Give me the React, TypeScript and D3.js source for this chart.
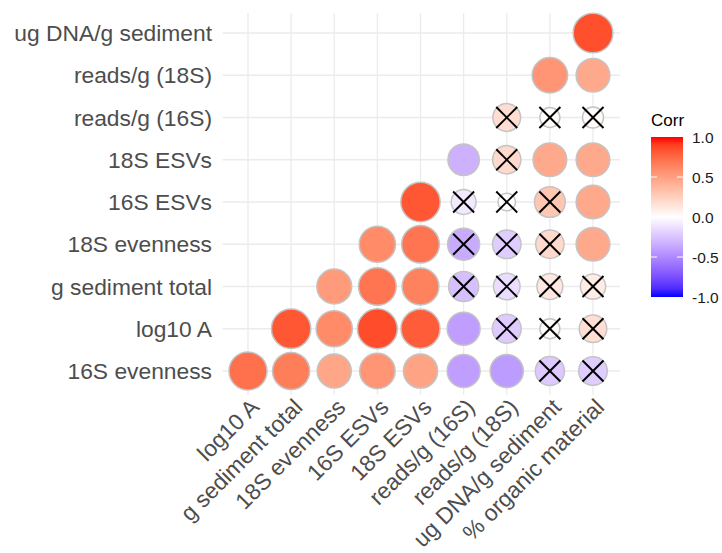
import React from "react";
import * as d3 from "d3";

// Variable order along each axis
const xLabels = [
  "log10 A",
  "g sediment total",
  "18S evenness",
  "16S ESVs",
  "18S ESVs",
  "reads/g (16S)",
  "reads/g (18S)",
  "ug DNA/g sediment",
  "% organic material",
];
// bottom to top
const yLabels = [
  "16S evenness",
  "log10 A",
  "g sediment total",
  "18S evenness",
  "16S ESVs",
  "18S ESVs",
  "reads/g (16S)",
  "reads/g (18S)",
  "ug DNA/g sediment",
];

// Lower-triangle correlations: row k starts at column k
const row0 = [0.72, 0.66, 0.47, 0.55, 0.48, -0.41, -0.42, -0.23, -0.21];
const row1 = [0.82, 0.6, 0.86, 0.8, -0.41, -0.22, 0.01, 0.17];
const row2 = [0.52, 0.7, 0.64, -0.27, -0.14, 0.12, 0.1];
const row3 = [0.6, 0.7, -0.36, -0.21, 0.2, 0.45];
const row4 = [0.82, -0.09, 0.0, 0.3, 0.45];
const row5 = [-0.33, 0.2, 0.45, 0.45];
const row6 = [0.18, 0.01, 0.02];
const row7 = [0.55, 0.45];
const row8 = [0.85];

// Non-significant cells (marked with a cross)
const ns0 = [0, 0, 0, 0, 0, 0, 0, 1, 1];
const ns1 = [0, 0, 0, 0, 0, 1, 1, 1];
const ns2 = [0, 0, 0, 1, 1, 1, 1];
const ns3 = [0, 0, 1, 1, 1, 0];
const ns4 = [0, 1, 1, 1, 0];
const ns5 = [0, 1, 0, 0];
const ns6 = [1, 1, 1];
const ns7 = [0, 0];
const ns8 = [0];

const legendTicks = [1.0, 0.5, 0.0, -0.5, -1.0];

const corrRows = [row0, row1, row2, row3, row4, row5, row6, row7, row8];
const nsRows = [ns0, ns1, ns2, ns3, ns4, ns5, ns6, ns7, ns8];

const W = 722;
const H = 553;
const FONT = "'Liberation Sans', Arial, Helvetica, sans-serif";
const AXIS_FONT = 22.8;

export default function App() {
  const panel = { left: 222.5, right: 620, top: 13, bottom: 395 };
  const x = d3.scalePoint<string>().domain(xLabels).range([248, 593]);
  const y = d3.scalePoint<string>().domain(yLabels).range([371, 33]);

  const color = d3
    .scaleLinear<string>()
    .domain([-1, 0, 1])
    .range(["blue", "white", "red"])
    .interpolate(d3.interpolateLab);

  const rScale = d3.scaleSqrt().domain([0, 1]).range([8.8, 20.8]);

  const cells: { xi: number; yi: number; v: number; ns: boolean }[] = [];
  corrRows.forEach((row, k) => {
    row.forEach((v, j) => {
      cells.push({ xi: k + j, yi: k, v, ns: nsRows[k][j] === 1 });
    });
  });

  const leg = { x: 651, w: 32, top: 137, bottom: 297 };
  const ly = d3.scaleLinear().domain([1, -1]).range([leg.top, leg.bottom]);
  const stops = d3.range(0, 21).map((i) => -1 + i * 0.1);

  const cross = 10.5;

  return (
    <svg
      width={W}
      height={H}
      style={{ position: "absolute", left: 0, top: 0, display: "block", background: "#fff" }}
    >
      <defs>
        <linearGradient id="corrGrad" x1="0" y1="1" x2="0" y2="0">
          {stops.map((s, i) => (
            <stop key={i} offset={`${(i / 20) * 100}%`} stopColor={color(s)} />
          ))}
        </linearGradient>
      </defs>

      {/* grid */}
      <g stroke="#ebebeb" strokeWidth={1.3}>
        {xLabels.map((l) => (
          <line key={"gx" + l} x1={x(l)} x2={x(l)} y1={panel.top} y2={panel.bottom} />
        ))}
        {yLabels.map((l) => (
          <line key={"gy" + l} y1={y(l)} y2={y(l)} x1={panel.left} x2={panel.right} />
        ))}
      </g>

      {/* circles */}
      <g>
        {cells.map((c, i) => {
          const cx = x(xLabels[c.xi])!;
          const cy = y(yLabels[c.yi])!;
          return (
            <circle
              key={"c" + i}
              cx={cx}
              cy={cy}
              r={rScale(Math.abs(c.v))}
              fill={color(c.v)}
              stroke="#c4c4c4"
              strokeWidth={1.5}
            />
          );
        })}
      </g>

      {/* crosses for non-significant pairs */}
      <g stroke="#000" strokeWidth={1.9}>
        {cells
          .filter((c) => c.ns)
          .map((c, i) => {
            const cx = x(xLabels[c.xi])!;
            const cy = y(yLabels[c.yi])!;
            return (
              <g key={"x" + i}>
                <line x1={cx - cross} y1={cy - cross} x2={cx + cross} y2={cy + cross} />
                <line x1={cx - cross} y1={cy + cross} x2={cx + cross} y2={cy - cross} />
              </g>
            );
          })}
      </g>

      {/* y axis labels */}
      <g fontFamily={FONT} fontSize={AXIS_FONT} fill="#4d4d4d" textAnchor="end">
        {yLabels.map((l) => (
          <text key={"yl" + l} x={212} y={y(l)} dy="0.36em">
            {l}
          </text>
        ))}
      </g>

      {/* x axis labels */}
      <g fontFamily={FONT} fontSize={AXIS_FONT} fill="#4d4d4d" textAnchor="end">
        {xLabels.map((l) => (
          <text
            key={"xl" + l}
            transform={`translate(${x(l)! + 1},${397}) rotate(-45)`}
            dy="0.72em"
          >
            {l}
          </text>
        ))}
      </g>

      {/* legend */}
      <g fontFamily={FONT}>
        <text x={leg.x} y={126} fontSize={17} fill="#000">
          Corr
        </text>
        <rect
          x={leg.x}
          y={leg.top}
          width={leg.w}
          height={leg.bottom - leg.top}
          fill="url(#corrGrad)"
        />
        {legendTicks.map((t) => (
          <g key={"lt" + t}>
            {t !== 1 && t !== -1 && (
              <>
                <line x1={leg.x} x2={leg.x + 6} y1={ly(t)} y2={ly(t)} stroke="#fff" strokeWidth={1} />
                <line
                  x1={leg.x + leg.w - 6}
                  x2={leg.x + leg.w}
                  y1={ly(t)}
                  y2={ly(t)}
                  stroke="#fff"
                  strokeWidth={1}
                />
              </>
            )}
            <text x={692} y={ly(t)} dy="0.36em" fontSize={15.5} fill="#1a1a1a">
              {d3.format(".1f")(t).replace("−", "-")}
            </text>
          </g>
        ))}
      </g>
    </svg>
  );
}
